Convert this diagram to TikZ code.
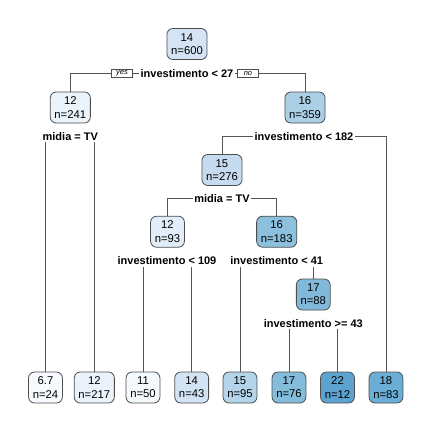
\documentclass[tikz,border=0pt]{standalone}
\usepackage{fontspec}
\setmainfont{Liberation Sans}
\usetikzlibrary{backgrounds}
\definecolor{bord}{HTML}{4D4D4D}
\definecolor{lc}{HTML}{555555}
\definecolor{c1}{HTML}{D4E4F4}
\definecolor{c2}{HTML}{EBF3FB}
\definecolor{c3}{HTML}{ABCFE5}
\definecolor{c6}{HTML}{C6DBEF}
\definecolor{c12}{HTML}{E1EDF8}
\definecolor{c13}{HTML}{8CC0DD}
\definecolor{c27}{HTML}{80B9DA}
\definecolor{l1}{HTML}{F7FBFF}
\definecolor{l2}{HTML}{EAF2FB}
\definecolor{l3}{HTML}{F4F9FE}
\definecolor{l4}{HTML}{D2E3F3}
\definecolor{l5}{HTML}{B4D4EA}
\definecolor{l6}{HTML}{84BCDB}
\definecolor{l7}{HTML}{5DA3D0}
\definecolor{l8}{HTML}{6AAED6}
\tikzset{
  tn/.style={draw=bord, line width=0.8pt, rounded corners=6pt, align=center,
    font=\fontsize{11.3}{13.3}\selectfont, inner xsep=4.2pt, inner ysep=0pt,
    minimum height=31pt},
  sl/.style={fill=white, font=\bfseries\fontsize{11}{13}\selectfont,
    inner xsep=1.2pt, inner ysep=1.5pt},
  yn/.style={draw=bord, line width=0.5pt, fill=white,
    font=\itshape\fontsize{7.5}{8}\selectfont, inner sep=0pt,
    minimum width=21pt, minimum height=8pt},
  br/.style={draw=lc, line width=0.8pt}
}
\begin{document}
\begin{tikzpicture}[x=1pt,y=-1pt]
\useasboundingbox (0,0) rectangle (432,432);
% internal nodes
\node[tn, fill=c1] (n1) at (187,44) {14\\n=600};
\node[sl] (s1) at (187,73.3) {investimento < 27};
\node[yn] (yes) at (122,73.3) {yes};
\node[yn] (no) at (248,73.3) {no};
\node[tn, fill=c2] (n2) at (70.3,107.5) {12\\n=241};
\node[sl] (s2) at (70.3,136.7) {midia = TV};
\node[tn, fill=c3] (n3) at (305,107.5) {16\\n=359};
\node[sl] (s3) at (304,136.7) {investimento < 182};
\node[tn, fill=c6] (n6) at (222,170) {15\\n=276};
\node[sl] (s6) at (222,198.3) {midia = TV};
\node[tn, fill=c12] (n12) at (167.5,231.7) {12\\n=93};
\node[sl] (s12) at (167,261) {investimento < 109};
\node[tn, fill=c13] (n13) at (276.7,231.7) {16\\n=183};
\node[sl] (s13) at (276.7,261) {investimento < 41};
\node[tn, fill=c27] (n27) at (313.3,294.5) {17\\n=88};
\node[sl] (s27) at (313.3,323.3) {investimento >= 43};
% leaves
\node[tn, fill=l1] (f1) at (45.5,387.5) {6.7\\n=24};
\node[tn, fill=l2] (f2) at (94.3,387.5) {12\\n=217};
\node[tn, fill=l3] (f3) at (143,387.5) {11\\n=50};
\node[tn, fill=l4] (f4) at (191.7,387.5) {14\\n=43};
\node[tn, fill=l5] (f5) at (240,387.5) {15\\n=95};
\node[tn, fill=l6] (f6) at (289,387.5) {17\\n=76};
\node[tn, fill=l7] (f7) at (337.5,387.5) {22\\n=12};
\node[tn, fill=l8] (f8) at (386,387.5) {18\\n=83};
\begin{scope}[on background layer]
  \draw[br] (n2.north) |- (s1.center) -| (n3.north);
  \draw[br] (f1.north) |- (s2.center) -| (f2.north);
  \draw[br] (n6.north) |- (s3.center) -| (f8.north);
  \draw[br] (n12.north) |- (s6.center) -| (n13.north);
  \draw[br] (f3.north) |- (s12.center) -| (f4.north);
  \draw[br] (f5.north) |- (s13.center) -| (n27.north);
  \draw[br] (f6.north) |- (s27.center) -| (f7.north);
\end{scope}
\end{tikzpicture}
\end{document}
